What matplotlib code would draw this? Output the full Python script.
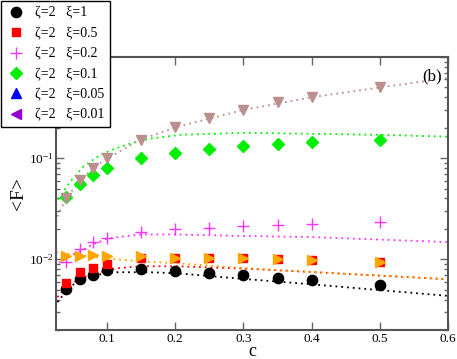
import math
import matplotlib
matplotlib.use("Agg")
import matplotlib.pyplot as plt
from matplotlib.ticker import FixedLocator, FormatStrFormatter, LogLocator, NullLocator, FuncFormatter

plt.rcParams['font.family'] = ['Liberation Serif', 'DejaVu Serif']
plt.rcParams['mathtext.fontset'] = 'custom'
plt.rcParams['mathtext.rm'] = 'Liberation Serif'
plt.rcParams['mathtext.default'] = 'regular'

# ---- data ----
c_pts = [0.04, 0.06, 0.08, 0.1, 0.15, 0.2, 0.25, 0.3, 0.35, 0.4, 0.5]
F_xi1 = [0.00506, 0.00635, 0.0070, 0.0078, 0.0080, 0.00767, 0.00728, 0.0070, 0.0065, 0.0062, 0.00554]
F_xi05 = [0.00589, 0.0075, 0.00828, 0.00893, 0.01023, 0.0104, 0.0102, 0.0102, 0.0100, 0.0098, 0.0093]
F_xi02 = [0.0094, 0.01255, 0.0148, 0.01637, 0.0186, 0.0198, 0.0205, 0.0213, 0.0220, 0.0222, 0.0233]
F_xi01 = [0.0411, 0.0561, 0.0688, 0.0800, 0.1005, 0.1125, 0.1233, 0.1328, 0.138, 0.1444, 0.151]
F_orange = [0.01078, 0.0109, 0.0110, 0.0109, 0.01066, 0.0104, 0.0102, 0.0104, 0.0100, 0.0098, 0.0093]
F_brown = [0.0405, 0.0614, 0.080, 0.1005, 0.1497, 0.201, 0.252, 0.301, 0.355, 0.401, 0.503]
F_xi005 = []
F_xi001 = []

# fitted (dotted) curves
fit_c_black = [0.027, 0.046, 0.065, 0.09, 0.115, 0.163, 0.203, 0.3, 0.398, 0.6]
fit_black = [0.00377, 0.00542, 0.00635, 0.00711, 0.00745, 0.00745, 0.00727, 0.0064, 0.00567, 0.00435]
fit_c_red = [0.027, 0.041, 0.065, 0.09, 0.115, 0.148, 0.203, 0.3, 0.398, 0.6]
fit_red = [0.00422, 0.00542, 0.00665, 0.00745, 0.00815, 0.00853, 0.00853, 0.0081, 0.0075, 0.00635]
fit_c_orange = [0.025, 0.065, 0.101, 0.148, 0.203, 0.3, 0.398, 0.6]
fit_orange = [0.0117, 0.0109, 0.0102, 0.00955, 0.00914, 0.0082, 0.0075, 0.00635]
fit_c_mag = [0.024, 0.0355, 0.06, 0.08, 0.101, 0.148, 0.203, 0.3, 0.398, 0.6]
fit_mag = [0.00834, 0.0102, 0.0120, 0.0141, 0.0161, 0.0176, 0.0176, 0.0170, 0.0166, 0.0148]
fit_c_green = [0.028, 0.046, 0.065, 0.09, 0.115, 0.138, 0.163, 0.207, 0.3, 0.4, 0.5, 0.6]
fit_green = [0.039, 0.0587, 0.0824, 0.108, 0.127, 0.142, 0.156, 0.170, 0.178, 0.174, 0.170, 0.163]
fit_c_brown = [0.027, 0.041, 0.08, 0.115, 0.148, 0.203, 0.3, 0.4, 0.5, 0.6]
fit_brown = [0.0265, 0.0417, 0.082, 0.113, 0.152, 0.204, 0.30, 0.40, 0.50, 0.62]

labels = ['ζ=2   ξ=1', 'ζ=2   ξ=0.5', 'ζ=2   ξ=0.2', 'ζ=2   ξ=0.1', 'ζ=2   ξ=0.05', 'ζ=2   ξ=0.01']
x_ticks = [0.1, 0.2, 0.3, 0.4, 0.5, 0.6]
y_ticks = [0.01, 0.1, 1.0]

W, H = 457, 359
fig = plt.figure(figsize=(W / 100, H / 100), dpi=100)
ax = fig.add_axes([56 / W, 1 - 330 / H, (448 - 56) / W, (330 - 57) / H])

BROWN = (188 / 255, 143 / 255, 143 / 255)
VIOLET = (148 / 255, 0, 211 / 255)
GREEN = '#00ee00'
MAG = '#ff33ff'
ORANGE = '#ffa500'

dot = (0, (1, 2.2))
lw = 1.3
ax.plot(fit_c_black, fit_black, ls=dot, color='black', lw=lw, zorder=2)
ax.plot(fit_c_red, fit_red, ls=dot, color='red', lw=lw, zorder=2)
ax.plot(fit_c_orange, fit_orange, ls=dot, color=ORANGE, lw=lw, zorder=2)
ax.plot(fit_c_mag, fit_mag, ls=dot, color=MAG, lw=lw, zorder=2)
ax.plot(fit_c_green, fit_green, ls=dot, color=GREEN, lw=lw, zorder=2)
ax.plot(fit_c_brown, fit_brown, ls=dot, color=BROWN, lw=lw, zorder=2)

h1, = ax.plot(c_pts, F_xi1, 'o', color='black', ms=7.4, ls='none', label=labels[0], zorder=3)
h2, = ax.plot(c_pts, F_xi05, 's', color='red', mec='red', ms=6.4, ls='none', label=labels[1], zorder=3)
h3, = ax.plot(c_pts, F_xi02, '+', color=MAG, ms=8, mew=1.0, ls='none', label=labels[2], zorder=3)
h4, = ax.plot(c_pts, F_xi01, 'D', color=GREEN, ms=6.0, ls='none', label=labels[3], zorder=3)
ax.plot(c_pts, F_orange, '>', color=ORANGE, ms=7.4, ls='none', zorder=3)
ax.plot(c_pts, F_brown, 'v', color=BROWN, ms=7.4, ls='none', zorder=3)
h5, = ax.plot(F_xi005, F_xi005, '^', color='blue', ms=7.4, ls='none', label=labels[4])
h6, = ax.plot(F_xi001, F_xi001, '<', color=VIOLET, ms=7.4, ls='none', label=labels[5])

ax.set_yscale('log')
ax.set_xlim(0.025, 0.6)
ax.set_ylim(0.002, 1.0)
ax.xaxis.set_major_locator(FixedLocator(x_ticks))
ax.xaxis.set_major_formatter(FormatStrFormatter('%.1f'))
ax.xaxis.set_minor_locator(NullLocator())
ax.yaxis.set_major_locator(FixedLocator(y_ticks))
ax.yaxis.set_major_formatter(FuncFormatter(
    lambda v, p: '' if v >= 0.5 else '$10^{%d}$' % round(math.log10(v))))
ax.yaxis.set_minor_locator(LogLocator(base=10, subs=range(2, 10), numticks=20))

spine_col = '#555555'
for s in ax.spines.values():
    s.set_color(spine_col)
    s.set_linewidth(1.5)
ax.tick_params(which='both', direction='in', top=True, right=True, color='#666666',
               labelsize=9.5, pad=2)
ax.tick_params(which='major', length=6, width=1.0)
ax.tick_params(which='minor', length=3, width=1.0)

ax.set_xlabel('c', fontsize=13, labelpad=-1)
ax.set_ylabel('<F>', fontsize=14, labelpad=1)

ax.text(0.985, 0.93, '(b)', transform=ax.transAxes, ha='right', va='center', fontsize=12)

leg = fig.legend(handles=[h1, h2, h3, h4, h5, h6], loc='upper left',
                 bbox_to_anchor=(1 / W, 1 - 1 / H), bbox_transform=fig.transFigure,
                 borderaxespad=0, fontsize=10, handlelength=1.3, handletextpad=0.75,
                 borderpad=0.4, labelspacing=0.53, frameon=True, fancybox=False,
                 framealpha=1, edgecolor='black')
leg.get_frame().set_linewidth(1.0)
leg.set_zorder(10)

fig.savefig('out.png', dpi=100)
